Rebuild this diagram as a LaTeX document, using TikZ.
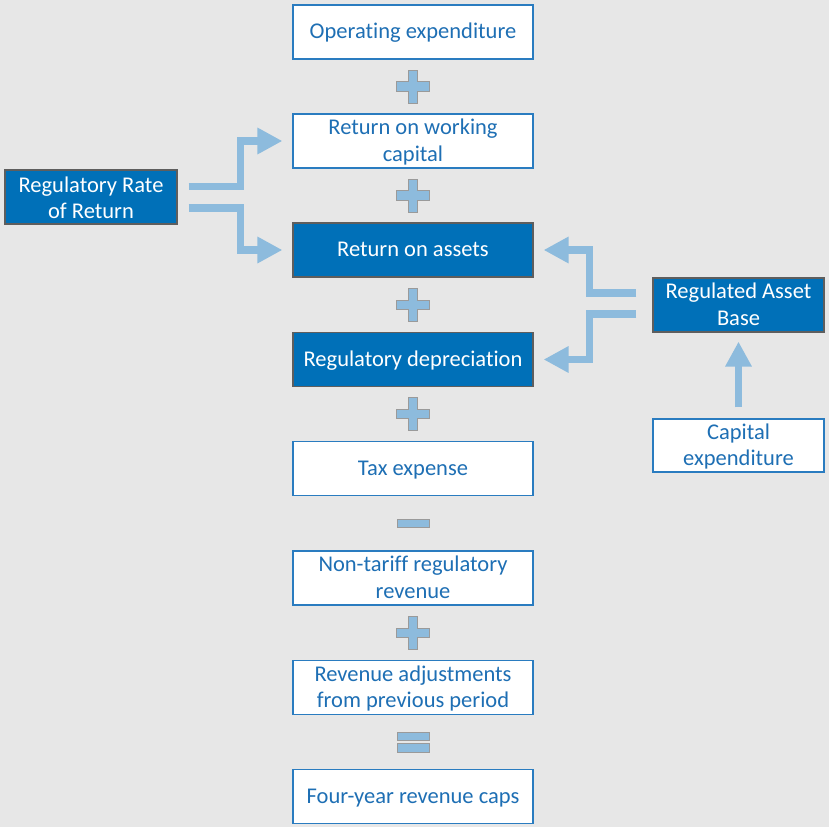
\documentclass[tikz,border=0pt]{standalone}
\usepackage{fontspec}
\setmainfont{Carlito}[Ligatures=CommonOff]
\usetikzlibrary{arrows.meta}

\definecolor{bggray}{HTML}{E7E7E7}
\definecolor{keyblue}{HTML}{0070B8}
\definecolor{keyline}{HTML}{5E5E5E}
\definecolor{boxline}{HTML}{2A7CC0}
\definecolor{boxtext}{HTML}{1E6FB4}
\definecolor{arrowblue}{HTML}{8DBBDD}
\definecolor{symline}{HTML}{9A9A9A}

% two centred lines; the box baseline is that of the first line
\newcommand{\stackedtext}[2]{\begin{tabular}[t]{@{}c@{}}#1\\#2\end{tabular}}

\begin{document}
\begin{tikzpicture}[
  x=1pt, y=-1pt,
  box/.style={draw=boxline, line width=1.2pt, fill=white, text=boxtext,
    minimum width=240pt, minimum height=54pt, inner sep=0pt,
    font=\fontsize{22.5}{26.5}\selectfont},
  onerow/.style={text height=13.5pt, text depth=0pt},
  tworow/.style={text height=0pt, text depth=13pt},
  keybox/.style={box, fill=keyblue, draw=keyline, text=white},
  flow/.style={draw=arrowblue, line width=7.5pt, line join=miter,
    -{Triangle[width=25pt,length=25pt]}},
  symbol/.style={fill=arrowblue, draw=symline, line width=1pt},
  plussign/.pic={\filldraw[symbol] (-16.5,-4.75) -- (-4.75,-4.75) -- (-4.75,-16.5)
    -- (4.75,-16.5) -- (4.75,-4.75) -- (16.5,-4.75) -- (16.5,4.75) -- (4.75,4.75)
    -- (4.75,16.5) -- (-4.75,16.5) -- (-4.75,4.75) -- (-16.5,4.75) -- cycle;},
  minussign/.pic={\filldraw[symbol] (-16,-4) rectangle (16,4);},
  equalsign/.pic={\filldraw[symbol] (-16,-10) rectangle (16,-1.5);
    \filldraw[symbol] (-16,1.5) rectangle (16,10);}
]
% page background
\fill[bggray] (0,0) rectangle (829,827);
\useasboundingbox (0,0) rectangle (829,827);

% central building-block column
\node[box, onerow]    (opex)  at (413,32)    {Operating expenditure};
\node[box, tworow]    (rwc)   at (413,141)   {\stackedtext{Return on working}{capital}};
\node[keybox, onerow] (roa)   at (413,250)   {Return on assets};
\node[keybox, onerow] (dep)   at (413,359.5) {Regulatory depreciation};
\node[box, onerow]    (tax)   at (413,468.5) {Tax expense};
\node[box, tworow]    (ntr)   at (413,578)   {\stackedtext{Non-tariff regulatory}{revenue}};
\node[box, tworow]    (radj)  at (413,687.5) {\stackedtext{Revenue adjustments}{from previous period}};
\node[box, onerow]    (caps)  at (413,796.5) {Four-year revenue caps};

% operators between the blocks
\pic at (413,86.5) {plussign};
\pic at (413,195.5) {plussign};
\pic at (413,305) {plussign};
\pic at (413,414) {plussign};
\pic at (413,523) {minussign};
\pic at (413,633) {plussign};
\pic at (413,742) {equalsign};

% inputs at the sides
\node[keybox, tworow, text depth=10pt, minimum width=172pt] (rrr) at (91,197)
  {\stackedtext{Regulatory Rate}{of Return}};
\node[keybox, tworow, minimum width=171pt] (rab) at (738.5,305)
  {\stackedtext{Regulated Asset}{Base}};
\node[box, tworow, minimum width=171pt, minimum height=53pt] (capex) at (738.5,445.5)
  {\stackedtext{Capital}{expenditure}};

% flows
\draw[flow] ([shift={(11,-10.5)}]rrr.east) -- ++(52,0) |- ([shift={(-10,0)}]rwc.west);
\draw[flow] ([shift={(11,11)}]rrr.east) -- ++(52,0) |- ([shift={(-10,0)}]roa.west);
\draw[flow] ([shift={(-16,-12)}]rab.west) -- ++(-47,0) |- ([shift={(10,0)}]roa.east);
\draw[flow] ([shift={(-16,9)}]rab.west) -- ++(-47,0) |- ([shift={(10,0)}]dep.east);
\draw[flow] ([shift={(0,-11)}]capex.north) -- ([shift={(0,9)}]rab.south);
\end{tikzpicture}
\end{document}
